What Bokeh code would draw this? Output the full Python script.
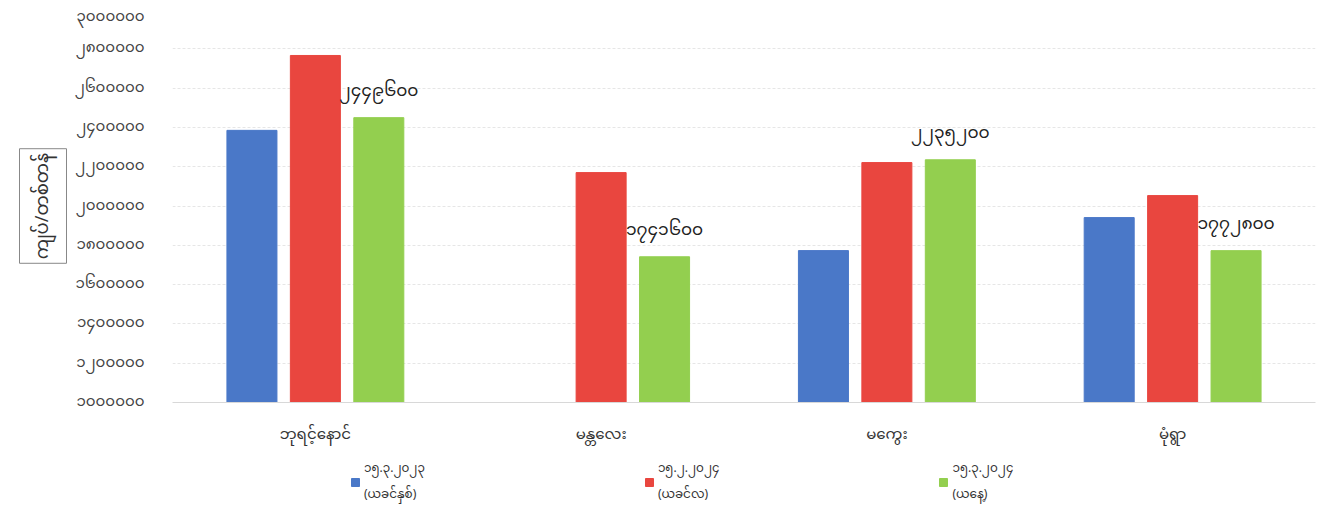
from bokeh.plotting import figure
from bokeh.layouts import column
from bokeh.models import ColumnDataSource, FactorRange, FixedTicker, Legend, LegendItem, Title, Range1d
from bokeh.core.properties import value
from bokeh.transform import dodge
from bokeh.embed import file_html
from bokeh.resources import INLINE

MY_FONT = "'Noto Sans Myanmar', 'Padauk', 'Myanmar Text', 'Noto Sans', sans-serif"

categories = ["ဘုရင့်နောင်", "မန္တလေး", "မကွေး", "မုံရွာ"]
series_names = ["၁၅.၃.၂၀၂၃\n(ယခင်နှစ်)", "၁၅.၂.၂၀၂၄\n(ယခင်လ)", "၁၅.၃.၂၀၂၄\n(ယနေ့)"]
prev_year = [2385000, float("nan"), 1773000, 1941000]
prev_month = [2766000, 2170000, 2221000, 2053000]
today = [2449600, 1741600, 2235200, 1772800]
today_labels = ["၂၄၄၉၆၀၀", "၁၇၄၁၆၀၀", "၂၂၃၅၂၀၀", "၁၇၇၂၈၀၀"]
y_ticks = [1000000, 1200000, 1400000, 1600000, 1800000, 2000000,
           2200000, 2400000, 2600000, 2800000, 3000000]
y_tick_labels = ["၁၀၀၀၀၀၀", "၁၂၀၀၀၀၀", "၁၄၀၀၀၀၀", "၁၆၀၀၀၀၀", "၁၈၀၀၀၀၀", "၂၀၀၀၀၀၀",
                 "၂၂၀၀၀၀၀", "၂၄၀၀၀၀၀", "၂၆၀၀၀၀၀", "၂၈၀၀၀၀၀", "၃၀၀၀၀၀၀"]
y_title = "ကျပ်/တစ်တန်"

colors = ["#4a78c8", "#e9463f", "#93cf4f"]

src = ColumnDataSource(dict(cat=categories, a=prev_year, b=prev_month, c=today, lab=today_labels))

p = figure(x_range=FactorRange(*categories), y_range=(1000000, 3000000),
           width=1319, height=454, output_backend="svg", toolbar_location=None,
           min_border_left=172, min_border_top=9, min_border_bottom=8, min_border_right=4)

w = 0.175
off = 0.222
p.vbar(x=dodge("cat", -off, range=p.x_range), top="a", bottom=1000000, width=w, source=src, color=colors[0])
p.vbar(x=dodge("cat", 0.0, range=p.x_range), top="b", bottom=1000000, width=w, source=src, color=colors[1])
p.vbar(x=dodge("cat", off, range=p.x_range), top="c", bottom=1000000, width=w, source=src, color=colors[2])

p.text(x=dodge("cat", off, range=p.x_range), y="c", text="lab", source=src,
       text_align="center", text_baseline="bottom", y_offset=-7,
       text_font=value(MY_FONT), text_font_size="17px", text_color="#222222")

p.yaxis.ticker = FixedTicker(ticks=y_ticks)
p.yaxis.major_label_overrides = {t: l for t, l in zip(y_ticks, y_tick_labels)}
p.yaxis.axis_line_color = None
p.yaxis.major_tick_line_color = None
p.yaxis.minor_tick_line_color = None
p.yaxis.major_label_text_font = MY_FONT
p.yaxis.major_label_text_font_size = "15px"
p.yaxis.major_label_text_color = "#444444"
p.yaxis.major_label_standoff = 22

p.xaxis.axis_line_color = "#d8d8d8"
p.xaxis.major_tick_line_color = None
p.xaxis.minor_tick_line_color = None
p.xaxis.major_label_text_font = MY_FONT
p.xaxis.major_label_text_font_size = "15px"
p.xaxis.major_label_text_color = "#333333"
p.xaxis.major_label_standoff = 10
p.xaxis.axis_label_standoff = 0

p.xgrid.grid_line_color = None
p.ygrid.grid_line_color = "#e6e6e6"
p.ygrid.grid_line_dash = "3 2"
p.outline_line_color = None

ttl = Title(text=y_title, align="center", text_font=MY_FONT, text_font_size="18px",
            text_font_style="normal", text_color="#333333",
            border_line_color="#888888", border_line_width=1, padding=4,
            offset=0, standoff=10)
p.add_layout(ttl, "left")

# legend strip below the chart
p2 = figure(width=1319, height=54, output_backend="svg", toolbar_location=None,
            x_range=Range1d(0, 1), y_range=Range1d(0, 1),
            min_border_left=0, min_border_right=0, min_border_top=0, min_border_bottom=0)
p2.axis.visible = False
p2.grid.grid_line_color = None
p2.outline_line_color = None
# legend swatches only: a single off-range entry so the swatch is drawn, nothing visible in the frame
swatch = ColumnDataSource(dict(x=[-5], top=[0]))
lr = [p2.vbar(x="x", top="top", width=0.1, source=swatch, color=c) for c in colors]

legend = Legend(items=[LegendItem(label=n, renderers=[r]) for n, r in zip(series_names, lr)],
                orientation="horizontal", location=(178, 0),
                spacing=219, glyph_width=10, glyph_height=10,
                label_text_font=MY_FONT, label_text_font_size="12px",
                label_text_color="#333333", border_line_color=None,
                background_fill_alpha=0,
                label_standoff=4, margin=0, padding=1)
p2.add_layout(legend)

layout = column(p, p2, spacing=0)
open("out.html", "w").write(file_html(layout, INLINE))
